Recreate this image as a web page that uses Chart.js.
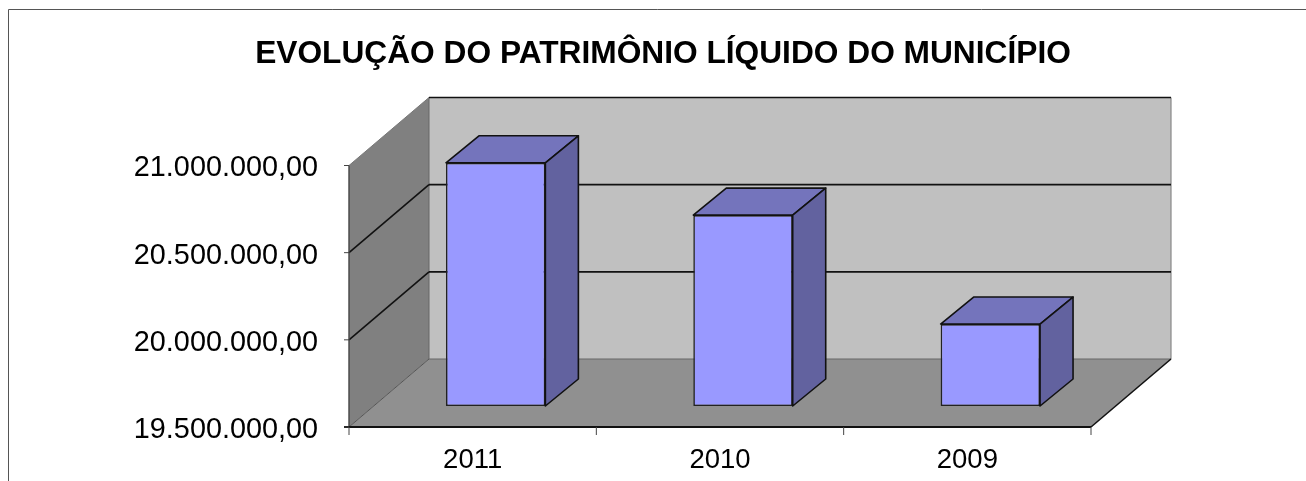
<!DOCTYPE html>
<html><head><meta charset="utf-8">
<style>html,body{margin:0;padding:0;background:#fff;overflow:hidden}#w{position:absolute;left:0;top:0;width:1306px;height:481px}</style>
<script src="https://cdn.jsdelivr.net/npm/chart.js@4"></script>
</head><body><div id="w"><canvas id="c" width="1306" height="481"></canvas></div>
<script>
const titleText = 'EVOLUÇÃO DO PATRIMÔNIO LÍQUIDO DO MUNICÍPIO';
const categories = ['2011', '2010', '2009'];
const values = [20895000, 20595000, 19970000];
const tickValues = [19500000, 20000000, 20500000, 21000000];
const tickLabels = ['19.500.000,00', '20.000.000,00', '20.500.000,00', '21.000.000,00'];

const DEPTH = {x: 80, y: -68};
const BAR_OFF = {x: 23, y: -21};
const BAR_DEPTH = {x: 33, y: -27};

function poly(ctx, pts, fill, stroke) {
  ctx.beginPath();
  pts.forEach((p, i) => i ? ctx.lineTo(p[0], p[1]) : ctx.moveTo(p[0], p[1]));
  ctx.closePath();
  if (fill) { ctx.fillStyle = fill; ctx.fill(); }
  if (stroke) { ctx.strokeStyle = stroke; ctx.lineWidth = 1.6; ctx.lineJoin = 'round'; ctx.stroke(); }
}
function line(ctx, x1, y1, x2, y2, w, col) {
  ctx.beginPath(); ctx.moveTo(x1, y1); ctx.lineTo(x2, y2);
  ctx.strokeStyle = col || '#111'; ctx.lineWidth = w || 1.6; ctx.stroke();
}
const frame = {
  id: 'frame',
  beforeDraw(ch) {
    const c = ch.ctx;
    c.save();
    c.strokeStyle = '#555'; c.lineWidth = 1;
    c.beginPath(); c.moveTo(8.5, 481); c.lineTo(8.5, 9.5); c.lineTo(1306, 9.5); c.stroke();
    c.restore();
  }
};
const walls = {
  id: 'walls',
  beforeDatasetsDraw(ch) {
    const c = ch.ctx, a = ch.chartArea, d = DEPTH, ys = ch.scales.y;
    const L = a.left, R = a.right, T = a.top, B = a.bottom;
    c.save();
    poly(c, [[L + d.x, T + d.y], [R + d.x, T + d.y], [R + d.x, B + d.y], [L + d.x, B + d.y]], '#c0c0c0');
    poly(c, [[L, T], [L + d.x, T + d.y], [L + d.x, B + d.y], [L, B]], '#808080');
    poly(c, [[L, B], [R, B], [R + d.x, B + d.y], [L + d.x, B + d.y]], '#909090');
    line(c, L + d.x, T + d.y, L + d.x, B + d.y, 1, '#666');
    line(c, R + d.x, T + d.y, R + d.x, B + d.y, 1.2, '#888');
    line(c, L + d.x, B + d.y, R + d.x, B + d.y, 1, '#666');
    line(c, L, B, L + d.x, B + d.y, 1, '#555');
    line(c, L, T, L + d.x, T + d.y, 1, '#777');
    tickValues.forEach(v => {
      const y = ys.getPixelForValue(v);
      if (v !== tickValues[0] && v !== tickValues[3]) line(c, L, y, L + d.x, y + d.y);
      if (v !== tickValues[0]) line(c, L + d.x, y + d.y, R + d.x, y + d.y);
    });
    line(c, L, T, L, B, 1.4, '#444');
    line(c, R, B, R + d.x, B + d.y);
    line(c, L - 5, B, R, B, 1.8);
    tickValues.forEach(v => { const y = ys.getPixelForValue(v); line(c, L - 5, y, L, y, 1, '#444'); });
    const xs = ch.scales.x;
    const step = xs.getPixelForValue(1) - xs.getPixelForValue(0);
    categories.forEach((_, i) => {
      const x = xs.getPixelForValue(i) + step / 2;
      line(c, x, B, x, B + 8, 1, '#444');
    });
    line(c, L, B, L, B + 8, 1, '#444');
    c.restore();
    c.save();
    c.translate(BAR_OFF.x, BAR_OFF.y);
  },
  afterDatasetsDraw(ch) {
    const c = ch.ctx, e = BAR_DEPTH;
    ch.getDatasetMeta(0).data.forEach(b => {
      const l = b.x - b.width / 2, r = b.x + b.width / 2, t = b.y, bt = b.base;
      poly(c, [[l, t], [l + e.x, t + e.y], [r + e.x, t + e.y], [r, t]], '#7474bc', '#111');
      poly(c, [[r, t], [r + e.x, t + e.y], [r + e.x, bt + e.y], [r, bt]], '#62629f', '#111');
    });
    c.restore();
  }
};
new Chart(document.getElementById('c'), {
  type: 'bar',
  data: { labels: categories, datasets: [{
    data: values, backgroundColor: '#9999ff', borderColor: '#222', borderWidth: 1.6, borderSkipped: false,
    barPercentage: 1, categoryPercentage: 0.402, clip: false, base: tickValues[0]
  }]},
  plugins: [frame, walls],
  options: {
    responsive: false, animation: false,
    layout: { padding: { left: 20, right: 0, top: 0, bottom: 0 } },
    plugins: {
      legend: { display: false }, tooltip: { enabled: false },
      title: { display: true, text: titleText, color: '#000',
        font: { family: '"Liberation Sans"', size: 31.7, weight: 'bold', lineHeight: 1.2 },
        padding: { top: 35, bottom: 92.46 } }
    },
    scales: {
      x: { grid: { display: false }, border: { display: false },
        afterFit(s) { s.height = 54; },
        ticks: { color: '#000', font: { family: '"Liberation Sans"', size: 27.5 }, padding: 9, maxRotation: 0 } },
      y: { min: tickValues[0], max: tickValues[3], afterBuildTicks(s) { s.ticks = tickValues.map(v => ({ value: v })); },
        grid: { display: false }, border: { display: false },
        afterFit(s) { s.width = 329; },
        ticks: { color: '#000', font: { family: '"Liberation Sans"', size: 28.8 }, padding: 23, labelOffset: 3,
          callback: (v) => tickLabels[tickValues.indexOf(v)] } },
      y2: { position: 'right', min: 0, max: 1, display: true,
        grid: { display: false }, border: { display: false },
        afterFit(s) { s.width = 215; },
        ticks: { display: false } }
    }
  }
});
</script></body></html>
